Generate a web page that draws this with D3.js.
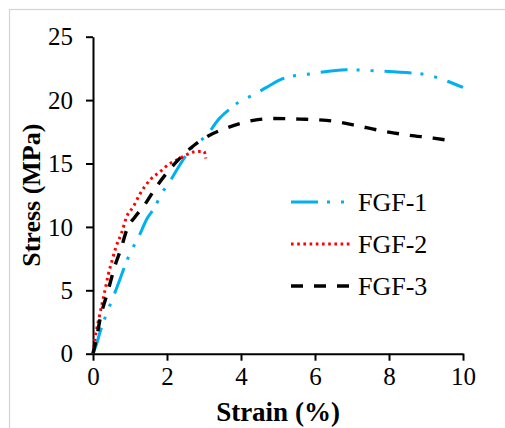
<!DOCTYPE html>
<html>
<head>
<meta charset="utf-8">
<script src="https://cdn.jsdelivr.net/npm/d3@7"></script>
</head>
<body style="margin:0">
<svg id="chart" width="505" height="428" font-family="serif"></svg>
<script>
// Tensile curves: strain (%) vs stress (MPa)
const seriesNames = ["FGF-1", "FGF-2", "FGF-3"];

const fgf1Strain = [0, 0.1, 0.19, 0.32, 0.44, 0.59, 0.77, 0.91, 1.05, 1.23, 1.47, 1.68, 1.81, 2.08, 2.35, 2.53, 2.76, 3.03, 3.43, 3.7, 3.97, 4.33, 4.69, 5.14, 5.95, 6.85, 7.66, 8.3, 9.02, 9.47, 10.0];
const fgf1Stress = [0, 0.8, 1.7, 2.8, 3.7, 4.8, 6.2, 7.3, 8.2, 9.2, 10.7, 11.6, 12.4, 13.6, 14.9, 15.7, 16.5, 17.1, 18.6, 19.3, 19.9, 20.4, 21.0, 21.7, 22.1, 22.4, 22.3, 22.2, 22.0, 21.6, 21.0];

const fgf2Strain = [0, 0.05, 0.19, 0.31, 0.41, 0.52, 0.62, 0.77, 0.91, 1.09, 1.27, 1.54, 1.81, 2.08, 2.35, 2.53, 2.71, 2.89, 3.0, 3.05];
const fgf2Stress = [0, 1.1, 3.2, 4.8, 6.2, 7.4, 8.4, 9.5, 10.8, 11.6, 12.6, 13.7, 14.35, 15.0, 15.4, 15.7, 15.9, 15.95, 15.95, 15.4];

const fgf3Strain = [0, 0.1, 0.19, 0.41, 0.59, 0.77, 0.91, 1.14, 1.36, 1.72, 2.31, 2.76, 3.07, 3.61, 4.33, 4.87, 5.59, 6.31, 7.03, 7.76, 8.48, 9.2, 9.56];
const fgf3Stress = [0, 1.3, 2.7, 5.0, 6.9, 8.4, 9.75, 10.8, 11.6, 13.2, 15.3, 16.5, 17.1, 17.8, 18.4, 18.55, 18.5, 18.4, 18.05, 17.6, 17.25, 17.0, 16.85];

const xTicks = [0, 2, 4, 6, 8, 10];
const yTicks = [0, 5, 10, 15, 20, 25];

const FONT = "serif";
const svg = d3.select("#chart");

// light outer frame
svg.append("rect")
  .attr("x", 9.5).attr("y", 9.5)
  .attr("width", 600).attr("height", 600)
  .attr("fill", "none")
  .attr("stroke", "#d8d5c6")
  .attr("stroke-width", 1.2);

const x = d3.scaleLinear().domain([0, 10]).range([93, 463]);
const y = d3.scaleLinear().domain([0, 25]).range([353.7, 36.7]);

const styles = [
  { color: "#00b0f0", width: 3, dash: "27,9,3,11,3,11" },
  { color: "#ff0000", width: 3, dash: "2.6,3.6" },
  { color: "#000000", width: 3.4, dash: "12,11" }
];

const series = [
  fgf1Strain.map((s, i) => [s, fgf1Stress[i]]),
  fgf2Strain.map((s, i) => [s, fgf2Stress[i]]),
  fgf3Strain.map((s, i) => [s, fgf3Stress[i]])
];

const line = d3.line()
  .x(d => x(d[0]))
  .y(d => y(d[1]))
  .curve(d3.curveMonotoneX);

// axes
const xAxis = svg.append("g")
  .attr("transform", `translate(0,${y(0)})`)
  .call(d3.axisBottom(x).tickValues(xTicks).tickSize(7).tickSizeOuter(0).tickFormat(d3.format("d")));
const yAxis = svg.append("g")
  .attr("transform", `translate(${x(0)},0)`)
  .call(d3.axisLeft(y).tickValues(yTicks).tickSize(7).tickSizeOuter(0).tickFormat(d3.format("d")));

[xAxis, yAxis].forEach(g => {
  g.attr("font-family", FONT).attr("font-size", 25);
  g.select(".domain").attr("stroke", "#000").attr("stroke-width", 2);
  g.selectAll(".tick line").attr("stroke", "#000").attr("stroke-width", 2);
  g.selectAll(".tick text")
    .attr("fill", "#000")
    .attr("font-family", FONT)
    .attr("font-size", 25);
});
xAxis.selectAll(".tick text").attr("y", 14).attr("dy", "0.71em");
yAxis.selectAll(".tick text").attr("x", -20).attr("dy", "0.33em");

// curves
series.forEach((pts, i) => {
  svg.append("path")
    .datum(pts)
    .attr("d", line)
    .attr("fill", "none")
    .attr("stroke", styles[i].color)
    .attr("stroke-width", styles[i].width)
    .attr("stroke-dasharray", styles[i].dash);
});

// axis titles
svg.append("text")
  .attr("x", (x(0) + x(10)) / 2)
  .attr("y", 421)
  .attr("text-anchor", "middle")
  .attr("font-family", FONT)
  .attr("font-size", 27)
  .attr("font-weight", "bold")
  .text("Strain (%)");

svg.append("text")
  .attr("transform", `translate(40,${(y(0) + y(25)) / 2}) rotate(-90)`)
  .attr("text-anchor", "middle")
  .attr("font-family", FONT)
  .attr("font-size", 26)
  .attr("font-weight", "bold")
  .text("Stress (MPa)");

// legend
const legendY = [202, 244, 286];
seriesNames.forEach((name, i) => {
  svg.append("line")
    .attr("x1", 291).attr("x2", 350)
    .attr("y1", legendY[i]).attr("y2", legendY[i])
    .attr("stroke", styles[i].color)
    .attr("stroke-width", styles[i].width)
    .attr("stroke-dasharray", styles[i].dash);
  svg.append("text")
    .attr("x", 358)
    .attr("y", legendY[i] + 9)
    .attr("font-family", FONT)
    .attr("font-size", 26)
    .text(name);
});
</script>
</body>
</html>
